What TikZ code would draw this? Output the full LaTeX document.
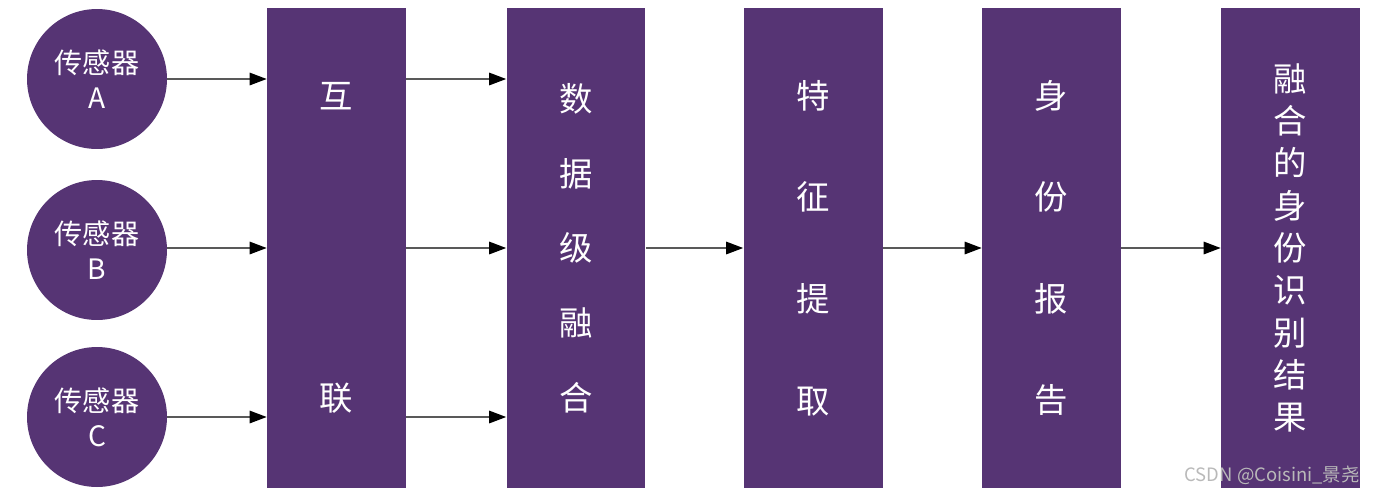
\documentclass[tikz,border=0pt]{standalone}
\usepackage{fontspec}
\setmainfont{Noto Sans CJK SC}
\usetikzlibrary{arrows.meta,positioning}
\definecolor{fuse}{RGB}{86,52,116}

\begin{document}
\begin{tikzpicture}[x=0.02cm, y=-0.02cm,
  every node/.style={text=white},
  sens/.style={circle,fill=fuse,minimum size=2.8cm,inner sep=0pt,align=center,
    font=\fontsize{16}{20}\selectfont},
  blk/.style={rectangle,fill=fuse,minimum width=2.78cm,minimum height=9.6cm,
    inner sep=0pt,align=center},
  arr/.style={draw=black!65,line width=0.8pt,
    -{Triangle[length=0.34cm,width=0.25cm,color=black]}}]
  \useasboundingbox (0,0) rectangle (1381,498);
  % sensors
  \node[sens] (sa) at (97,79) {传感器\\A};
  \node[sens] (sb) at (97,250) {传感器\\B};
  \node[sens] (sc) at (97,417) {传感器\\C};
  % processing stages
  \node[blk,font=\fontsize{19}{171.8}\selectfont] (hl) at (336.5,248) {互\\联};
  \node[blk,font=\fontsize{19}{42.5}\selectfont] (sj) at (576,248) {数\\据\\级\\融\\合};
  \node[blk,font=\fontsize{19}{57.8}\selectfont] (tz) at (813,248) {特\\征\\提\\取};
  \node[blk,font=\fontsize{19}{57.8}\selectfont] (sf) at (1051.5,248) {身\\份\\报\\告};
  \node[blk,font=\fontsize{19}{24.1}\selectfont] (jg) at (1290.5,248)
    {融\\合\\的\\身\\份\\识\\别\\结\\果};

  \draw[arr] (sa) -- (sa -| hl.west);
  \draw[arr] (sb.east |- hl) -- (hl);
  \draw[arr] (sc) -- (sc -| hl.west);
  \draw[arr] (hl.east |- sa) -- (sj.west |- sa);
  \draw[arr] (hl) -- (sj);
  \draw[arr] (hl.east |- sc) -- (sj.west |- sc);
  \draw[arr] (sj) -- (tz);
  \draw[arr] (tz) -- (sf);
  \draw[arr] (sf) -- (jg);

  \node[text=gray!55,font=\fontsize{10.5}{12}\selectfont,anchor=south east]
    (wm) at (1366,491) {CSDN @Coisini\_景尧};
\end{tikzpicture}
\end{document}
